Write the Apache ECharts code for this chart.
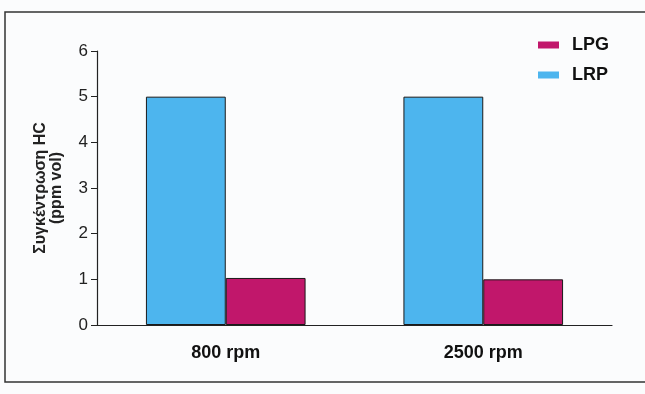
<!DOCTYPE html>
<html>
<head>
<meta charset="utf-8">
<script src="https://cdn.jsdelivr.net/npm/echarts@6/dist/echarts.min.js"></script>
<style>
html,body{margin:0;padding:0;background:#fbfcfd;}
#c{width:645px;height:394px;}
</style>
</head>
<body>
<div id="c"></div>
<script>
const categories = ['800 rpm', '2500 rpm'];
const lrpValues = [5.0, 5.0];
const lpgValues = [1.03, 1.0];
const yTicks = [0, 1, 2, 3, 4, 5, 6];
const yAxisName = 'Συγκέντρωση HC\n(ppm vol)';

const chart = echarts.init(document.getElementById('c'), null, {renderer: 'canvas'});
const font = 'Arial, "Liberation Sans", sans-serif';
chart.setOption({
  backgroundColor: '#fbfcfd',
  animation: false,
  graphic: [{
    type: 'rect',
    shape: {x: 5, y: 12, width: 660, height: 370},
    style: {fill: 'none', stroke: '#333', lineWidth: 1.5},
    silent: true,
    z: -1
  }],
  legend: {
    orient: 'vertical',
    left: 533,
    top: 31,
    itemWidth: 21,
    itemHeight: 7,
    itemGap: 12,
    icon: 'rect',
    data: ['LPG', 'LRP'],
    itemStyle: {borderWidth: 0},
    textStyle: {fontFamily: font, fontSize: 18, fontWeight: 'bold', color: '#111', padding: [0, 0, 0, 8]}
  },
  grid: {left: 97, right: 33, top: 51, bottom: 69, containLabel: false},
  xAxis: {
    type: 'category',
    data: categories,
    axisLine: {show: true, lineStyle: {color: '#222', width: 1.2}},
    axisTick: {show: false},
    axisLabel: {fontFamily: font, fontSize: 18, fontWeight: 'bold', color: '#111', margin: 19}
  },
  yAxis: {
    type: 'value',
    min: yTicks[0],
    max: yTicks[yTicks.length - 1],
    interval: 1,
    name: yAxisName,
    nameLocation: 'middle',
    nameGap: 32,
    nameRotate: 90,
    nameTextStyle: {fontFamily: font, fontSize: 16, fontWeight: 'bold', color: '#222', lineHeight: 16},
    axisLine: {show: true, lineStyle: {color: '#222', width: 1.2}},
    axisTick: {show: true, inside: false, length: 6, lineStyle: {color: '#222'}},
    axisLabel: {fontFamily: font, fontSize: 17, color: '#222', margin: 9},
    splitLine: {show: false}
  },
  series: [
    {
      name: 'LRP',
      type: 'bar',
      data: lrpValues,
      barGap: '0%',
      barCategoryGap: '38%',
      itemStyle: {color: '#4db5ee', borderColor: '#1a1a1a', borderWidth: 1}
    },
    {
      name: 'LPG',
      type: 'bar',
      data: lpgValues,
      itemStyle: {color: '#c1176b', borderColor: '#1a1a1a', borderWidth: 1}
    }
  ]
});
</script>
</body>
</html>
